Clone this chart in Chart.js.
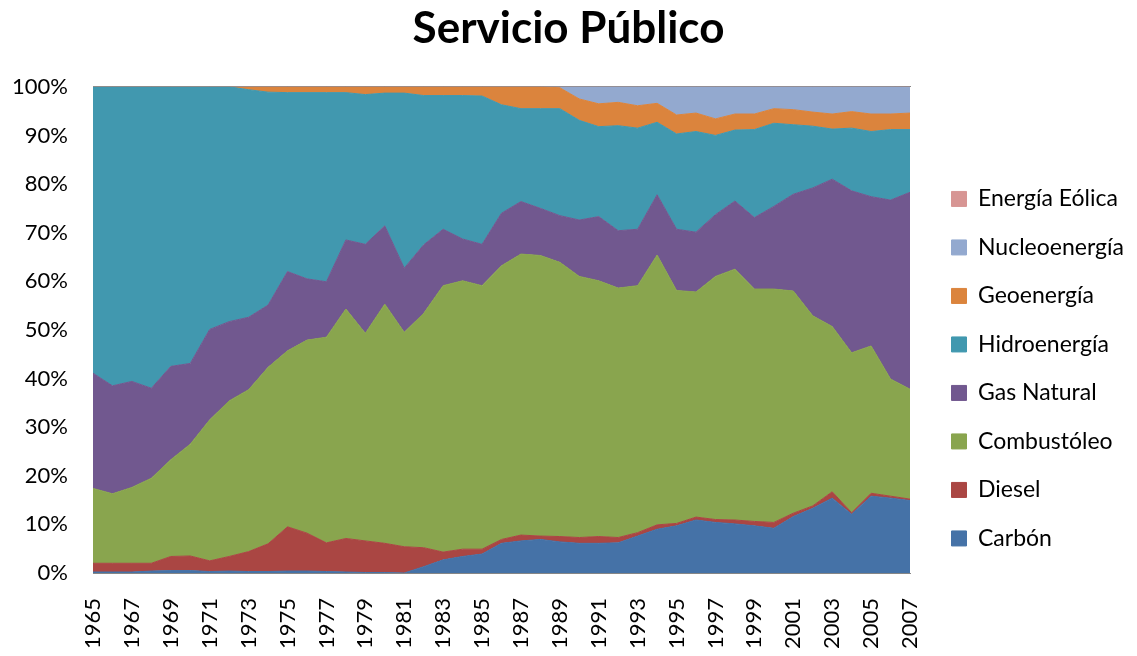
<!DOCTYPE html>
<html lang="es">
<head>
<meta charset="utf-8">
<title>Servicio Público</title>
<script src="https://cdn.jsdelivr.net/npm/chart.js@4/dist/chart.umd.min.js"></script>
<style>
  html, body { margin: 0; padding: 0; background: #fff; }
  #wrap { width: 1137px; height: 656px; position: relative; }
</style>
</head>
<body>
<div id="wrap"><canvas id="chart"></canvas></div>
<script>
// años 1965 -> 2007
const years = [
  1965, 1966, 1967, 1968, 1969, 1970, 1971, 1972, 1973, 1974,
  1975, 1976, 1977, 1978, 1979, 1980, 1981, 1982, 1983, 1984,
  1985, 1986, 1987, 1988, 1989, 1990, 1991, 1992, 1993, 1994,
  1995, 1996, 1997, 1998, 1999, 2000, 2001, 2002, 2003, 2004,
  2005, 2006, 2007
];

// participación (%) de cada fuente en la generación
const carbon = [
  0.2, 0.2, 0.2, 0.4, 0.5, 0.5, 0.3, 0.4, 0.3, 0.3,
  0.4, 0.4, 0.3, 0.2, 0.1, 0.1, 0.0, 1.3, 2.7, 3.4,
  3.9, 6.1, 6.6, 6.9, 6.4, 6.1, 6.1, 6.2, 7.6, 9.0,
  9.7, 10.9, 10.4, 10.1, 9.7, 9.2, 11.6, 13.3, 15.4, 12.1,
  15.8, 15.4, 14.9
];
const diesel = [
  1.8, 1.8, 1.8, 1.6, 2.9, 3.0, 2.2, 3.0, 4.1, 5.7,
  9.1, 7.8, 5.9, 6.9, 6.5, 6.0, 5.4, 3.9, 1.6, 1.5,
  1.0, 0.8, 1.2, 0.7, 1.1, 1.2, 1.4, 1.1, 0.7, 0.9,
  0.5, 0.6, 0.6, 0.8, 0.9, 1.2, 0.7, 0.5, 1.3, 0.3,
  0.6, 0.4, 0.3
];
const combustoleo = [
  15.4, 14.3, 15.6, 17.5, 19.9, 23.0, 29.0, 32.0, 33.3, 36.3,
  36.2, 39.7, 42.3, 47.2, 42.7, 49.2, 44.1, 48.2, 54.8, 55.2,
  54.2, 56.3, 57.8, 57.7, 56.4, 53.7, 52.6, 51.3, 50.8, 55.5,
  47.9, 46.3, 50.0, 51.6, 47.8, 48.0, 45.7, 39.1, 34.0, 32.9,
  30.3, 24.1, 22.6
];
const gasNatural = [
  23.7, 22.2, 21.8, 18.5, 19.2, 16.6, 18.6, 16.3, 14.9, 12.8,
  16.3, 12.6, 11.4, 14.2, 18.3, 16.1, 13.2, 14.1, 11.6, 8.6,
  8.5, 10.8, 10.8, 9.7, 9.6, 11.6, 13.2, 11.8, 11.6, 12.4,
  12.6, 12.3, 12.7, 14.0, 14.7, 17.0, 19.9, 26.3, 30.3, 33.3,
  30.7, 36.8, 40.5
];
const hidro = [
  58.9, 61.5, 60.6, 62.0, 57.5, 56.9, 49.9, 48.3, 46.8, 43.8,
  36.8, 38.3, 38.9, 30.3, 30.8, 27.3, 36.0, 30.7, 27.5, 29.5,
  30.5, 22.3, 19.1, 20.5, 22.0, 20.5, 18.5, 21.6, 20.8, 14.9,
  19.6, 20.7, 16.3, 14.6, 18.1, 17.1, 14.3, 12.7, 10.3, 12.9,
  13.4, 14.5, 12.9
];
const geo = [
  0.0, 0.0, 0.0, 0.0, 0.0, 0.0, 0.0, 0.0, 0.6, 1.1,
  1.2, 1.2, 1.2, 1.2, 1.6, 1.3, 1.3, 1.8, 1.8, 1.8,
  1.9, 3.7, 4.5, 4.5, 4.3, 4.4, 4.7, 4.8, 4.6, 3.9,
  3.9, 3.8, 3.4, 3.3, 3.2, 3.0, 3.1, 2.9, 3.1, 3.4,
  3.6, 3.2, 3.4
];
const nuclear = [
  0.0, 0.0, 0.0, 0.0, 0.0, 0.0, 0.0, 0.0, 0.0, 0.0,
  0.0, 0.0, 0.0, 0.0, 0.0, 0.0, 0.0, 0.0, 0.0, 0.0,
  0.0, 0.0, 0.0, 0.0, 0.2, 2.5, 3.5, 3.2, 3.9, 3.4,
  5.8, 5.4, 6.6, 5.6, 5.6, 4.5, 4.7, 5.2, 5.6, 5.1,
  5.6, 5.6, 5.3
];
const eolica = [
  0.0, 0.0, 0.0, 0.0, 0.0, 0.0, 0.0, 0.0, 0.0, 0.0,
  0.0, 0.0, 0.0, 0.0, 0.0, 0.0, 0.0, 0.0, 0.0, 0.0,
  0.0, 0.0, 0.0, 0.0, 0.0, 0.0, 0.0, 0.0, 0.0, 0.0,
  0.0, 0.0, 0.0, 0.0, 0.0, 0.0, 0.0, 0.0, 0.0, 0.0,
  0.0, 0.0, 0.1
];

const fuentes = [
  { label: "Carbón", data: carbon, color: "#4572A7" },
  { label: "Diesel", data: diesel, color: "#AA4643" },
  { label: "Combustóleo", data: combustoleo, color: "#89A54E" },
  { label: "Gas Natural", data: gasNatural, color: "#71588F" },
  { label: "Hidroenergía", data: hidro, color: "#4198AF" },
  { label: "Geoenergía", data: geo, color: "#DB843D" },
  { label: "Nucleoenergía", data: nuclear, color: "#93A9CF" },
  { label: "Energía Eólica", data: eolica, color: "#D79593" },
];

const fontFamily = "Lato, 'Open Sans', sans-serif";
const axisColor = "#868686";

// ancho fijo de la leyenda y separación respecto al área de trazado
const legendWidth = 227;
const legendShift = 16;

const legendBox = {
  id: "legendBox",
  afterInit(chart) {
    const fit = chart.legend.fit;
    chart.legend.fit = function () {
      fit.call(this);
      this.width = legendWidth;
    };
  },
  afterLayout(chart) {
    chart.legend.left += legendShift;
  },
};

const datasets = fuentes.map((f, i) => ({
  label: f.label,
  data: f.data,
  backgroundColor: f.color,
  borderColor: f.color,
  borderWidth: 1,
  pointRadius: 0,
  tension: 0,
  fill: i === 0 ? "origin" : "-1",
}));

const config = {
  type: "line",
  data: { labels: years, datasets: datasets },
  plugins: [legendBox],
  options: {
    responsive: false,
    animation: false,
    layout: { padding: 0 },
    plugins: {
      title: {
        display: true,
        text: "Servicio Público",
        color: "#000",
        font: { family: fontFamily, size: 44, weight: "bold" },
        padding: { top: 2, bottom: 32 },
      },
      legend: {
        position: "right",
        reverse: true,
        align: "center",
        title: {
          display: true,
          text: "",
          font: { size: 12 },
          padding: { top: 67, bottom: 0 },
        },
        labels: {
          boxWidth: 15,
          boxHeight: 15,
          padding: 25.5,
          color: "#000",
          font: { family: fontFamily, size: 23 },
        },
      },
      tooltip: { enabled: false },
    },
    scales: {
      x: {
        grid: { display: false },
        border: { display: true, color: axisColor },
        afterFit: (axis) => { axis.height = 83; },
        ticks: {
          autoSkip: false,
          minRotation: 90,
          maxRotation: 90,
          padding: 17,
          color: "#000",
          font: { family: fontFamily, size: 22 },
          // un año sí y otro no
          callback: function (value, index) {
            return index % 2 === 0 ? this.getLabelForValue(value) : "";
          },
        },
      },
      // borde superior del área de trazado
      xTop: {
        position: "top",
        grid: { display: false, drawTicks: false },
        border: { display: true, color: axisColor },
        ticks: { display: false },
        afterFit: (axis) => { axis.height = 0; },
      },
      y: {
        stacked: true,
        min: 0,
        max: 100,
        grid: { display: false },
        border: { display: true, color: axisColor },
        afterFit: (axis) => { axis.width = 93; },
        ticks: {
          stepSize: 10,
          padding: 17,
          color: "#000",
          font: { family: fontFamily, size: 22 },
          callback: (v) => v + "%",
        },
      },
    },
  },
};

const canvas = document.getElementById("chart");
canvas.width = 1137;
canvas.height = 656;
new Chart(canvas, config);
</script>
</body>
</html>
